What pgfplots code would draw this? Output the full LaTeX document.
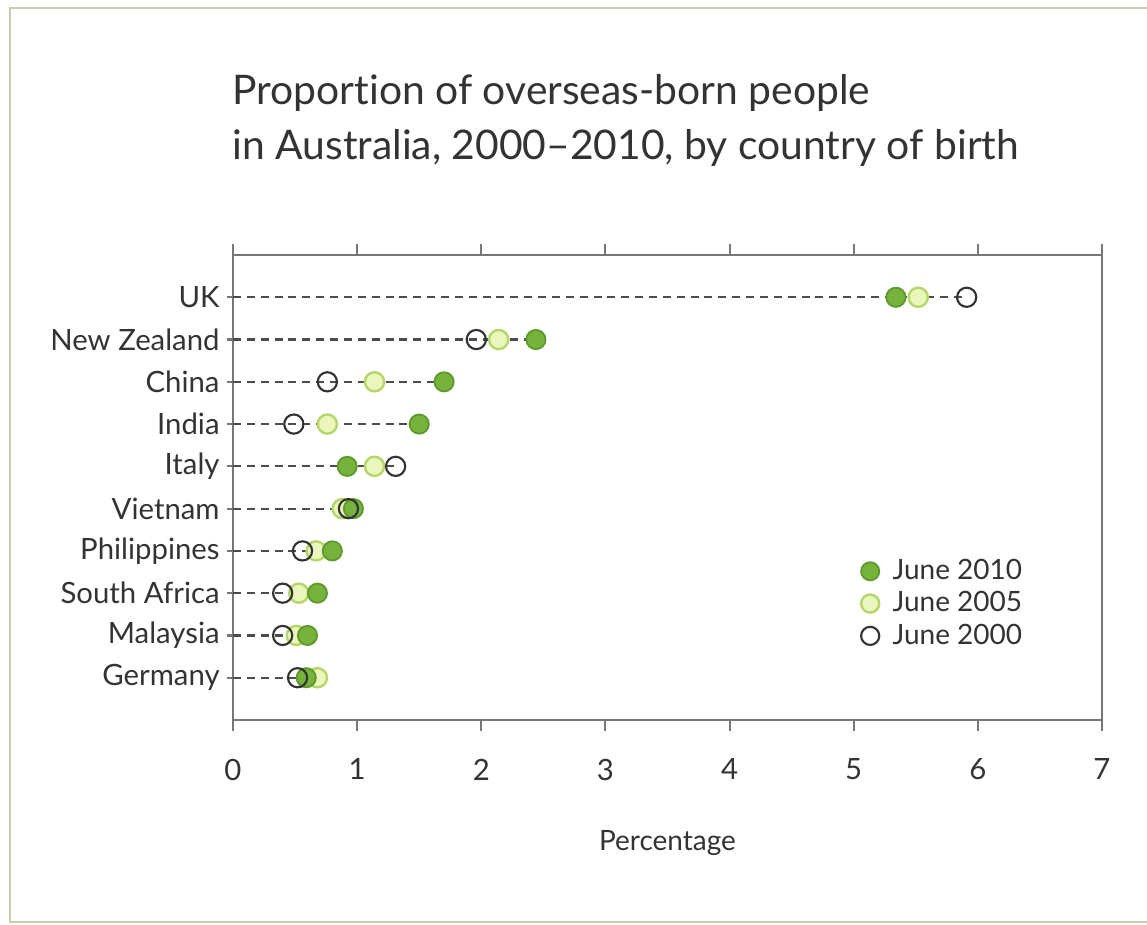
\documentclass[border=0pt]{standalone}
\usepackage{fontspec}
\setmainfont{Lato}[Ligatures={NoCommon}]
\usepackage{pgfplots}
\pgfplotsset{compat=1.18}
\usepackage{pgfplotstable}
\definecolor{gfill}{HTML}{76B23C}
\definecolor{gdraw}{HTML}{5F9A2C}
\definecolor{lfill}{HTML}{EAF6BC}
\definecolor{ldraw}{HTML}{B5D66A}
\definecolor{odraw}{HTML}{333333}
\definecolor{axcol}{HTML}{777777}
\definecolor{framecol}{HTML}{C9CCAE}
\pgfplotstableread{
y v2010 v2005 v2000 vmax
10 5.34 5.52 5.91 5.91
9 2.44 2.14 1.96 2.44
8 1.70 1.14 0.76 1.70
7 1.50 0.76 0.49 1.50
6 0.92 1.14 1.31 1.31
5 0.97 0.88 0.93 0.97
4 0.80 0.67 0.56 0.80
3 0.68 0.53 0.40 0.68
2 0.60 0.51 0.40 0.60
1 0.59 0.68 0.52 0.68
}\data
\begin{document}
\begin{tikzpicture}
\path[use as bounding box] (0,0) rectangle (430.125pt,346.875pt);
\draw[framecol, line width=1pt] (432pt,343.9pt) -- (3.75pt,343.9pt) -- (3.75pt,1.125pt) -- (432pt,1.125pt);
\begin{axis}[
  at={(87.375pt,76.875pt)}, anchor=south west,
  scale only axis, width=325.875pt, height=174.375pt,
  xmin=0, xmax=7, ymin=0, ymax=11,
  xtick={0,1,2,3,4,5,6,7},
  ytick={1,2,3,4,5,6,7,8,9,10},
  yticklabels={Germany,Malaysia,South Africa,Philippines,Vietnam,Italy,India,China,New Zealand,UK},
  tick align=outside, xtick pos=both, xticklabel pos=bottom, ytick pos=left,
  major tick length=4pt,
  axis line style={axcol, line width=0.8pt},
  tick style={axcol, line width=0.8pt},
  ytick style={xshift=1.6pt},
  /pgf/number format/assume math mode=true,
  ticklabel style={font=\fontsize{11}{13}\selectfont, text=black!80},
  xticklabel style={yshift=-7pt},
  yticklabel style={xshift=2.5pt},
  xlabel={Percentage},
  xlabel style={at={(axis description cs:0.5,-0.28)}, anchor=base, font=\fontsize{10.5}{12}\selectfont, text=black!80},
  legend style={draw=none, fill=none, at={(0.713,0.37)}, anchor=north west, font=\fontsize{10.5}{12}\selectfont, text=black!80, row sep=-1pt, nodes={inner xsep=5pt}},
  legend cell align=left,
]
\addlegendimage{only marks, mark=*, mark size=3.4pt, mark options={fill=gfill, draw=gdraw, line width=0.7pt}}
\addlegendentry{June 2010}
\addlegendimage{only marks, mark=*, mark size=3.4pt, mark options={fill=lfill, draw=ldraw, line width=0.9pt}}
\addlegendentry{June 2005}
\addlegendimage{only marks, mark=o, mark size=3.4pt, mark options={draw=odraw, line width=0.8pt}}
\addlegendentry{June 2000}
\addplot[xcomb, dash pattern=on 3pt off 2.2pt, draw=black!70, line width=0.8pt, forget plot] table[x=vmax, y=y] {\data};
\addplot[only marks, mark=*, mark size=3.6pt, mark options={fill=lfill, draw=ldraw, line width=0.9pt}, forget plot] table[x=v2005, y=y] {\data};
\addplot[only marks, mark=*, mark size=3.6pt, mark options={fill=gfill, draw=gdraw, line width=0.7pt}, forget plot] table[x=v2010, y=y] {\data};
\addplot[only marks, mark=o, mark size=3.6pt, mark options={draw=odraw, line width=0.8pt}, forget plot] table[x=v2000, y=y] {\data};
\end{axis}
\node[anchor=base west, font=\fontsize{15.3}{18}\selectfont, text=black!80, inner sep=0pt] at (87pt,307.5pt) {Proportion of overseas-born people};
\node[anchor=base west, font=\fontsize{15.3}{18}\selectfont, text=black!80, inner sep=0pt] at (87pt,286.9pt) {in Australia, 2000--2010, by country of birth};
\end{tikzpicture}
\end{document}
